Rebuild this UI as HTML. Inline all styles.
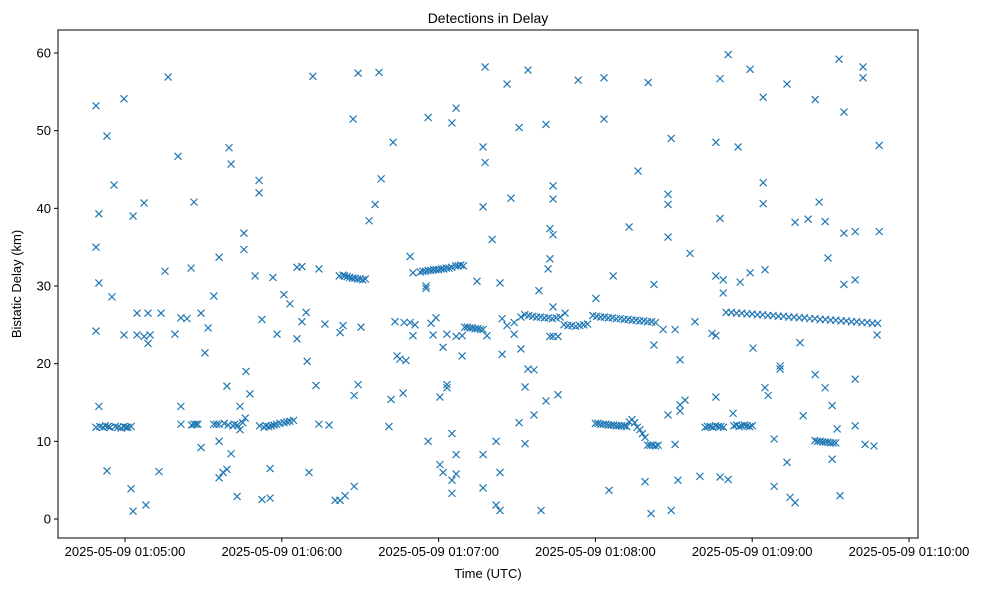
<!DOCTYPE html>
<html><head><meta charset="utf-8"><style>
html,body{margin:0;padding:0;background:#fff;}
svg{display:block;font-family:"Liberation Sans","DejaVu Sans",sans-serif;}
</style></head><body>
<svg id="chart" width="988" height="590">
<rect x="0" y="0" width="988" height="590" fill="#fff"/>
<text x="488" y="23" text-anchor="middle" font-size="14" fill="#000">Detections in Delay</text>
<text x="488" y="578" text-anchor="middle" font-size="13" fill="#000">Time (UTC)</text>
<text transform="translate(21,284) rotate(-90)" text-anchor="middle" font-size="13" fill="#000">Bistatic Delay (km)</text>
<g id="marks"></g>
<g id="axes"></g>
</svg>
<script>
// seconds after 01:05:00
const xTickLabels = ["2025-05-09 01:05:00","2025-05-09 01:06:00","2025-05-09 01:07:00","2025-05-09 01:08:00","2025-05-09 01:09:00","2025-05-09 01:10:00"];
const xTickValues = [0,60,120,180,240,300];
const yTickValues = [0,10,20,30,40,50,60];
const times = [
-11.1,-11.1,-11.1,-11.1,-10,-10,-10,-9.6,-8.4,-7.5,-6.5,-5.7,-3.8,-2.7,-1.5,-0.4,0.4,1.1,2.3,-6.9,-6.9,-5,-4.2,-0.4,-0.4,2.3,3.1,3.1,4.6,4.6,7.3,7.3,8,8.8,8.8,9.6,13,13.8,15.3,16.5,19.1,20.3,21.4,21.4,21.4,23.7,25.3,26.4,26.4,25.5,27.2,27.9,29.1,29.1,30.6,31.8,34,34,36,36,36,36,37.5,39,39,39.8,40.6,40.6,35,38,39.5,41.3,42,43,44,45,46,42.9,44,45.5,45.5,46.3,47.8,49.8,51.3,51.3,52.4,52.4,51.5,53.2,54,55,56,57,58,59.3,60.8,62,63.1,64.5,55.5,55.5,56.6,58.2,60.8,63.1,65.8,65.8,67.7,67.7,69.3,69.7,70.4,71.9,73.1,74.2,74.2,76.5,78.1,80.4,82.3,82.3,83.4,83.4,84.2,82,84,85,86,87,88,89,90,91,92,87.3,87.7,87.7,89.2,89.2,90.3,93.4,95.7,97.2,98,101,101.8,102.6,103.3,104.1,105.2,106.4,106.8,107.5,109.1,109.1,110.2,110.2,111,113,114,115,116,117,118,119,120,121,122,123,124,125,115.2,115.2,116,116,117.1,117.9,119,120.5,120.5,121.7,121.7,123.2,123.2,123.2,125.1,125.1,125.1,125.1,126.7,126.7,126.7,126.7,126.5,127.5,128.5,129.5,129,129,130,131,132,133,134,135,136,137,134.7,137,137,137,137,137.8,137.8,138.5,140.5,142,142,143.5,143.5,143.5,144.3,144.3,146.2,146.2,147.7,148.9,148.9,150.8,150.8,151.5,151.5,153.1,153.1,154.2,154.2,153,154.5,156,157.5,159,160.5,162,163.5,165,166.5,168,169.5,171,172.5,174,175.5,177,156.5,156.5,158.4,159.2,161.1,161.1,161.9,162.6,162.6,162.6,163.8,163.8,163.8,163.8,163.8,165.7,165.7,168.4,173.4,179,180.5,182,183.5,185,186.5,188,189.5,191,192.5,194,195.5,197,198.5,200,201.5,203,180.2,183.3,183.3,185.2,186.8,192.9,180,181,182,183,184,185,186,187,188,189,190,191,192,193,194,195,196,197,198,199,196.3,199,200.2,201.3,202.4,202.4,200,201,202,203,204,205.9,207.8,207.8,207.8,207.8,209,209,210.5,210.5,211.6,212.4,212.4,212.4,214.3,216.2,218.1,220,222,223,224,225,226,227,228,229,224.6,226.1,226.1,226.1,226.1,227.7,227.7,227.7,228.9,228.9,230.8,230.8,232.7,233,234,235,236,237,238,239,240,234.6,235.4,239.2,239.2,240.3,230,232,234,236,238,240,242,244,246,248,250,252,254,256,258,260,262,264,266,268,270,272,274,276,278,280,282,284,286,288,244.2,244.2,244.2,244.9,244.9,246.1,248.4,248.4,250.7,250.7,253.3,253.3,254.5,256.4,256.4,258.3,259.5,261.4,264.1,264.1,265.6,264,265,266,267,268,269,270,271,272,267.9,267.9,269,270.6,270.6,272.5,273.2,273.6,275.1,275.1,275.1,279.4,279.4,279.4,279.4,282.4,282.4,283.2,286.6,287.8,288.6,288.6
];
const delays = [
53.2,35.0,24.2,11.8,39.3,30.4,14.5,11.9,11.8,12.0,11.9,11.8,11.9,11.8,11.7,11.9,11.8,11.8,11.9,49.3,6.2,28.6,43.0,54.1,23.7,3.9,1.0,39.0,26.5,23.7,40.7,23.5,1.8,22.6,26.5,23.7,6.1,26.5,31.9,56.9,23.8,46.7,14.5,12.2,25.9,25.8,32.3,40.8,12.2,12.1,12.2,12.2,9.2,26.5,21.4,24.6,28.7,12.2,33.7,5.3,10.0,12.2,6.0,17.1,6.4,47.8,45.7,8.4,12.2,12.3,12.1,12.0,12.2,12.1,11.5,12.4,13.0,2.9,14.5,36.8,34.7,19.0,16.1,31.3,42.0,43.6,2.5,25.7,12.0,11.8,12.0,11.9,12.0,12.1,12.2,12.3,12.4,12.5,12.6,12.7,2.7,6.5,31.1,23.8,28.9,27.7,23.2,32.4,25.4,32.5,26.6,20.3,6.0,57.0,17.2,32.2,12.2,25.1,12.1,2.4,2.4,24.0,24.9,31.4,3.0,31.3,31.3,31.2,31.1,31.0,31.0,30.9,30.9,30.8,30.9,51.5,4.2,15.9,57.4,17.3,24.7,38.4,40.5,57.5,43.8,11.9,15.4,48.5,25.4,21.0,20.6,16.2,25.3,20.4,33.8,25.3,31.7,23.6,25.0,31.8,31.9,31.9,32.0,32.0,32.1,32.1,32.1,32.2,32.2,32.3,32.3,32.4,29.7,30.0,51.7,10.0,25.2,23.7,25.9,7.0,15.7,22.1,6.0,17.3,16.9,23.8,3.3,5.0,11.0,51.0,52.9,8.3,5.8,23.5,32.6,32.6,32.7,32.6,21.0,23.6,24.7,24.7,24.6,24.6,24.5,24.5,24.4,24.4,30.6,40.2,47.9,4.0,8.3,58.2,45.9,23.6,36.0,10.0,1.8,1.1,30.4,6.0,21.2,25.8,56.0,24.9,41.3,23.8,25.3,50.4,12.4,26.0,21.9,9.7,17.0,57.8,19.3,26.3,26.2,26.1,26.0,26.0,25.9,25.9,25.8,25.9,26.0,25.0,24.9,24.9,24.8,24.9,25.0,25.1,13.4,19.2,29.4,1.1,50.8,15.2,32.2,37.4,33.5,23.5,42.9,41.2,36.6,27.3,23.5,16.0,23.5,26.5,56.5,26.2,26.1,26.0,26.0,25.9,25.9,25.8,25.8,25.7,25.7,25.6,25.6,25.5,25.5,25.4,25.4,25.3,28.4,56.8,51.5,3.7,31.3,37.6,12.3,12.3,12.2,12.2,12.2,12.1,12.1,12.1,12.0,12.0,12.0,12.0,11.9,12.5,12.8,12.4,11.8,11.5,11.0,10.5,44.8,4.8,56.2,0.7,30.2,22.4,9.5,9.5,9.5,9.4,9.5,24.4,41.8,40.5,36.3,13.4,1.1,49.0,9.6,24.4,5.0,20.5,13.9,14.7,15.3,34.2,25.4,5.5,11.8,11.9,11.9,11.8,12.0,11.9,11.9,11.8,23.9,48.5,31.3,23.6,15.7,56.7,5.4,38.7,30.8,29.1,59.8,5.1,13.6,12.0,12.1,11.9,12.0,12.1,12.0,11.9,12.0,47.9,30.5,57.9,31.7,22.0,26.6,26.6,26.5,26.5,26.4,26.4,26.3,26.3,26.2,26.2,26.1,26.1,26.0,26.0,25.9,25.9,25.8,25.8,25.7,25.7,25.6,25.6,25.5,25.5,25.4,25.4,25.3,25.3,25.2,25.2,54.3,43.3,40.6,32.1,16.9,15.9,4.2,10.3,19.7,19.3,7.3,56.0,2.8,2.1,38.2,22.7,13.3,38.6,18.6,54.0,40.8,10.1,10.0,10.0,9.9,9.9,9.9,9.8,9.8,9.8,16.9,38.3,33.6,14.6,7.7,11.6,59.2,3.0,52.4,36.8,30.2,37.0,30.8,12.0,18.0,58.2,56.8,9.6,9.4,23.7,48.1,37.0
];
const L=58,R=918,T=30,B=538;
const X0=125,PXS=(909-125)/300;
const Y0=519,PXK=(519-53)/60;
function sx(t){return X0+t*PXS;}
function sy(v){return Y0-v*PXK;}
const NS="http://www.w3.org/2000/svg";
function mk(tag,attrs,parent){const e=document.createElementNS(NS,tag);for(const k in attrs)e.setAttribute(k,attrs[k]);parent.appendChild(e);return e;}
const marks=document.getElementById('marks');
const n=Math.min(times.length,delays.length);
for(let i=0;i<n;i++){
  const x=sx(times[i]),y=sy(delays[i]),s=3.5;
  const p=mk('path',{d:`M${x-s},${y-s}L${x+s},${y+s}M${x-s},${y+s}L${x+s},${y-s}`,stroke:'#1f77b4','stroke-width':1.2,fill:'none'},marks);
  
  
}
const axes=document.getElementById('axes');
const frame=mk('rect',{x:L,y:T,width:R-L,height:B-T,fill:'none',stroke:'#000','stroke-width':1},axes);


xTickValues.forEach((v,i)=>{
  const x=sx(v);
  const t=mk('line',{x1:x,x2:x,y1:B,y2:B+4,stroke:'#000'},axes);
  
  
  const lb=mk('text',{x:x,y:B+18,'text-anchor':'middle','font-size':13,fill:'#000'},axes);
  lb.textContent=xTickLabels[i];
  
  
});
yTickValues.forEach(v=>{
  const y=sy(v);
  const t=mk('line',{x1:L-4,x2:L,y1:y,y2:y,stroke:'#000'},axes);
  
  
  const lb=mk('text',{x:L-7,y:y+4.5,'text-anchor':'end','font-size':13,fill:'#000'},axes);
  lb.textContent=String(v);
  
  
});
</script>
</body></html>
